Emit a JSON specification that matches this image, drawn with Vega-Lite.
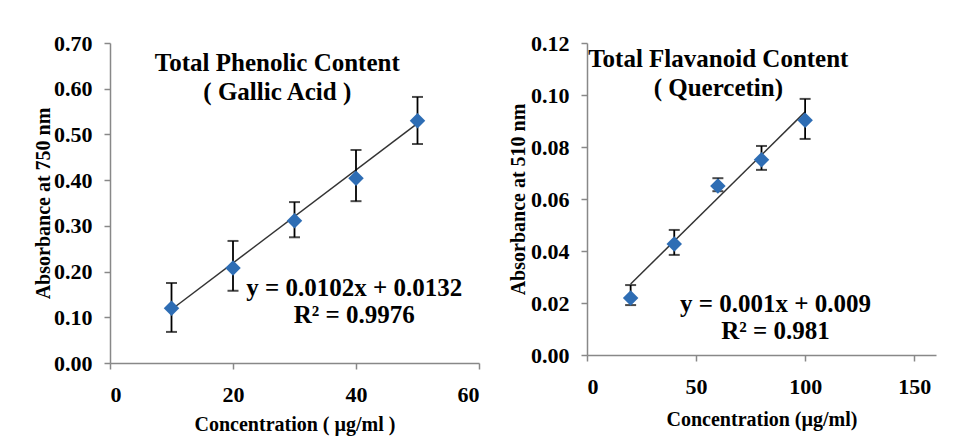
{
  "$schema": "https://vega.github.io/schema/vega-lite/v6.json",
  "background": "white",
  "padding": {"left": 33, "top": 32, "right": 5, "bottom": 5},
  "spacing": 28,
  "datasets": {
    "phen": [
      {"conc": 10, "abs": 0.120, "lo": 0.068, "hi": 0.175},
      {"conc": 20, "abs": 0.208, "lo": 0.158, "hi": 0.267},
      {"conc": 30, "abs": 0.311, "lo": 0.275, "hi": 0.352},
      {"conc": 40, "abs": 0.404, "lo": 0.354, "hi": 0.466},
      {"conc": 50, "abs": 0.530, "lo": 0.479, "hi": 0.582}
    ],
    "phenTrend": [
      {"conc": 10, "abs": 0.117},
      {"conc": 50, "abs": 0.524}
    ],
    "phenText": [
      {"conc": 27.2, "abs": 0.656, "label": "Total Phenolic Content"},
      {"conc": 27.2, "abs": 0.593, "label": "( Gallic Acid )"},
      {"conc": 39.7, "abs": 0.164, "label": "y = 0.0102x + 0.0132"},
      {"conc": 39.7, "abs": 0.105, "label": "R² = 0.9976"}
    ],
    "flav": [
      {"conc": 20, "abs": 0.0219, "lo": 0.0192, "hi": 0.0269},
      {"conc": 40, "abs": 0.0427, "lo": 0.0385, "hi": 0.0481},
      {"conc": 60, "abs": 0.0650, "lo": 0.0630, "hi": 0.0680},
      {"conc": 80, "abs": 0.0751, "lo": 0.0712, "hi": 0.0804},
      {"conc": 100, "abs": 0.0903, "lo": 0.0831, "hi": 0.0985}
    ],
    "flavTrend": [
      {"conc": 20, "abs": 0.0273},
      {"conc": 100, "abs": 0.0935}
    ],
    "flavText": [
      {"conc": 60.2, "abs": 0.1138, "label": "Total Flavanoid Content"},
      {"conc": 60.2, "abs": 0.1027, "label": "( Quercetin)"},
      {"conc": 86.4, "abs": 0.0196, "label": "y = 0.001x + 0.009"},
      {"conc": 86.4, "abs": 0.0092, "label": "R² = 0.981"}
    ]
  },
  "hconcat": [
    {
      "width": 369,
      "height": 320,
      "layer": [
        {
          "data": {"name": "phenTrend"},
          "mark": {"type": "line", "color": "#333333", "strokeWidth": 1.5},
          "encoding": {
            "x": {"field": "conc", "type": "quantitative", "scale": {"domain": [0, 60]},
                  "axis": {"values": [0, 20, 40, 60], "format": "d", "title": "Concentration ( µg/ml )", "labelPadding": 25, "titlePadding": 9}},
            "y": {"field": "abs", "type": "quantitative", "scale": {"domain": [0, 0.7]},
                  "axis": {"values": [0, 0.1, 0.2, 0.3, 0.4, 0.5, 0.6, 0.7], "format": ".2f", "title": "Absorbance at 750 nm", "titlePadding": 0}}
          }
        },
        {
          "data": {"name": "phen"},
          "mark": {"type": "rule", "color": "black", "strokeWidth": 1.8},
          "encoding": {
            "x": {"field": "conc", "type": "quantitative"},
            "y": {"field": "lo", "type": "quantitative"},
            "y2": {"field": "hi"}
          }
        },
        {
          "data": {"name": "phen"},
          "mark": {"type": "tick", "color": "black", "orient": "horizontal", "size": 11, "thickness": 2},
          "encoding": {
            "x": {"field": "conc", "type": "quantitative"},
            "y": {"field": "lo", "type": "quantitative"}
          }
        },
        {
          "data": {"name": "phen"},
          "mark": {"type": "tick", "color": "black", "orient": "horizontal", "size": 11, "thickness": 2},
          "encoding": {
            "x": {"field": "conc", "type": "quantitative"},
            "y": {"field": "hi", "type": "quantitative"}
          }
        },
        {
          "data": {"name": "phen"},
          "mark": {"type": "point", "shape": "diamond", "filled": true, "size": 240, "color": "#2e6db4", "opacity": 1},
          "encoding": {
            "x": {"field": "conc", "type": "quantitative"},
            "y": {"field": "abs", "type": "quantitative"}
          }
        },
        {
          "data": {"name": "phenText"},
          "mark": {"type": "text", "font": "Liberation Serif", "fontWeight": "bold", "fontSize": 25, "color": "black", "align": "center", "baseline": "middle"},
          "encoding": {
            "x": {"field": "conc", "type": "quantitative"},
            "y": {"field": "abs", "type": "quantitative"},
            "text": {"field": "label"}
          }
        }
      ]
    },
    {
      "width": 349,
      "height": 312,
      "layer": [
        {
          "data": {"name": "flavTrend"},
          "mark": {"type": "line", "color": "#333333", "strokeWidth": 1.5},
          "encoding": {
            "x": {"field": "conc", "type": "quantitative", "scale": {"domain": [0, 150]},
                  "axis": {"values": [0, 50, 100, 150], "format": "d", "title": "Concentration (µg/ml)", "labelPadding": 25, "titlePadding": 12}},
            "y": {"field": "abs", "type": "quantitative", "scale": {"domain": [0, 0.12]},
                  "axis": {"values": [0, 0.02, 0.04, 0.06, 0.08, 0.1, 0.12], "format": ".2f", "title": "Absorbance at 510 nm", "titlePadding": 2}}
          }
        },
        {
          "data": {"name": "flav"},
          "mark": {"type": "rule", "color": "black", "strokeWidth": 1.8},
          "encoding": {
            "x": {"field": "conc", "type": "quantitative"},
            "y": {"field": "lo", "type": "quantitative"},
            "y2": {"field": "hi"}
          }
        },
        {
          "data": {"name": "flav"},
          "mark": {"type": "tick", "color": "black", "orient": "horizontal", "size": 11, "thickness": 2},
          "encoding": {
            "x": {"field": "conc", "type": "quantitative"},
            "y": {"field": "lo", "type": "quantitative"}
          }
        },
        {
          "data": {"name": "flav"},
          "mark": {"type": "tick", "color": "black", "orient": "horizontal", "size": 11, "thickness": 2},
          "encoding": {
            "x": {"field": "conc", "type": "quantitative"},
            "y": {"field": "hi", "type": "quantitative"}
          }
        },
        {
          "data": {"name": "flav"},
          "mark": {"type": "point", "shape": "diamond", "filled": true, "size": 240, "color": "#2e6db4", "opacity": 1},
          "encoding": {
            "x": {"field": "conc", "type": "quantitative"},
            "y": {"field": "abs", "type": "quantitative"}
          }
        },
        {
          "data": {"name": "flavText"},
          "mark": {"type": "text", "font": "Liberation Serif", "fontWeight": "bold", "fontSize": 25, "color": "black", "align": "center", "baseline": "middle"},
          "encoding": {
            "x": {"field": "conc", "type": "quantitative"},
            "y": {"field": "abs", "type": "quantitative"},
            "text": {"field": "label"}
          }
        }
      ]
    }
  ],
  "config": {
    "view": {"stroke": null},
    "axis": {
      "grid": false,
      "domainColor": "#888888",
      "domainWidth": 1.5,
      "tickColor": "#888888",
      "tickWidth": 1.5,
      "tickSize": 6,
      "labelFont": "Liberation Serif",
      "labelFontWeight": "bold",
      "labelFontSize": 22,
      "labelColor": "black",
      "titleFont": "Liberation Serif",
      "titleFontWeight": "bold",
      "titleFontSize": 20,
      "titleColor": "black"
    },
    "axisY": {"labelPadding": 12},
    "axisX": {"labelBaseline": "middle"}
  }
}
